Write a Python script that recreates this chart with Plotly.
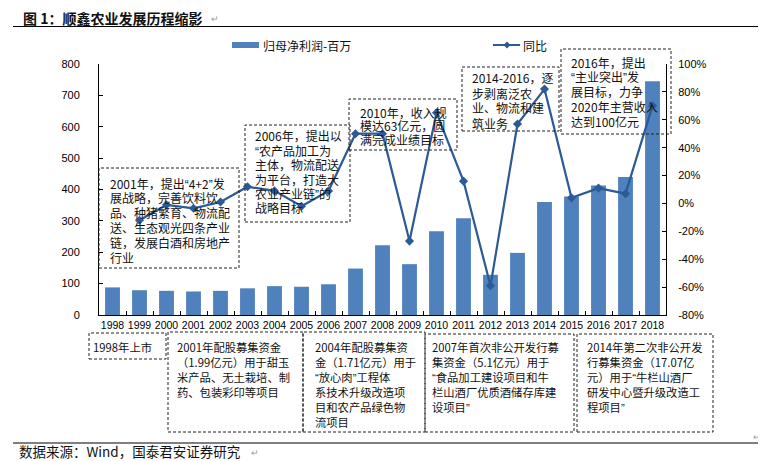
import plotly.graph_objects as go

# ---------------- data ----------------
years = ["1998", "1999", "2000", "2001", "2002", "2003", "2004", "2005", "2006", "2007",
         "2008", "2009", "2010", "2011", "2012", "2013", "2014", "2015", "2016", "2017", "2018"]
profit = [88, 79, 77, 75, 77, 85, 92, 90, 98, 148, 222, 162, 267, 308, 128, 198, 360, 378, 413, 440, 745]
yoy = [None, -0.12, -0.01, -0.035, 0.01, 0.12, 0.09, -0.02, 0.09, 0.50, 0.50, -0.27,
       0.65, 0.16, -0.59, 0.57, 0.82, 0.04, 0.11, 0.07, 0.70]
y2_tickvals = [-0.8, -0.6, -0.4, -0.2, 0.0, 0.2, 0.4, 0.6, 0.8, 1.0]
y2_ticktext = ["-80%", "-60%", "-40%", "-20%", "0%", "20%", "40%", "60%", "80%", "100%"]

title_text = "图 1：顺鑫农业发展历程缩影"
source_text = "数据来源：Wind，国泰君安证券研究"
legend_bar = "归母净利润-百万"
legend_line = "同比"

top_notes = [
    ["2001年，提出“4+2”发", "展战略，完善饮料饮", "品、种猪繁育、物流配", "送、生态观光四条产业",
     "链，发展白酒和房地产", "行业"],
    ["2006年，提出以", "“农产品加工为", "主体，物流配送", "为平台，打造大", "农业产业链”的", "战略目标"],
    ["2010年，收入规", "模达63亿元，圆", "满完成业绩目标"],
    ["2014-2016，逐", "步剥离泛农", "业、物流和建", "筑业务"],
    ["2016年，提出", "“主业突出”发", "展目标，力争", "2020年主营收入", "达到100亿元"],
]
bottom_notes = [
    ["1998年上市"],
    ["2001年配股募集资金", "（1.99亿元）用于甜玉", "米产品、无土栽培、制", "药、包装彩印等项目"],
    ["2004年配股募集资", "金（1.71亿元）用于", "“放心肉”工程体", "系技术升级改造项", "目和农产品绿色物", "流项目"],
    ["2007年首次非公开发行募", "集资金（5.1亿元）用于", "“食品加工建设项目和牛", "栏山酒厂优质酒储存库建", "设项目”"],
    ["2014年第二次非公开发", "行募集资金（17.07亿", "元）用于“牛栏山酒厂", "研发中心暨升级改造工", "程项目”"],
]

# ---------------- layout helpers (reference pixel -> paper) ----------------
OFF = 8                      # page body margin offset
W, H = 766 - OFF, 461 - OFF
PL, PR, PT, PB = 99, 666, 64, 315   # plot area in reference pixels
def px(x):
    return (x - PL) / (PR - PL)
def py(y):
    return (PB - y) / (PB - PT)

CJK = "Noto Sans CJK SC"
NUM = "Liberation Sans"
BAR_C = "#4F81BD"
LINE_C = "#2C5A96"
TXT_C = "#111111"

fig = go.Figure()
fig.add_bar(x=years, y=profit, marker=dict(color=BAR_C, line=dict(width=0)), name=legend_bar, yaxis="y")
fig.add_scatter(x=years, y=yoy, yaxis="y2", mode="lines+markers", name=legend_line,
                line=dict(color=LINE_C, width=2.2),
                marker=dict(symbol="diamond", size=7, color=LINE_C))

shapes = []
annotations = []

def narrow_quotes(s):
    q = '<span style="font-family:Liberation Sans">%s</span>'
    return s.replace("“", q % "“").replace("”", q % "”")

def text(x, y, s, size, family=CJK, color=TXT_C, xanchor="left", yanchor="middle"):
    annotations.append(dict(x=px(x), y=py(y), xref="paper", yref="paper", text=s, showarrow=False,
                            xanchor=xanchor, yanchor=yanchor, align="left", borderpad=0,
                            font=dict(family=family, size=size, color=color)))

def box(x0, y0, x1, y1):
    shapes.append(dict(type="rect", xref="paper", yref="paper", x0=px(x0), x1=px(x1), y0=py(y1), y1=py(y0),
                       line=dict(color="#222222", width=1, dash="3px,2px"), fillcolor="rgba(0,0,0,0)",
                       layer="above"))

# title + rule
text(22, 18, "<b>" + title_text + "</b>", 14)
text(210, 19, "↵", 9, color="#999999")
shapes.append(dict(type="line", xref="paper", yref="paper", x0=px(13), x1=px(766), y0=py(26.5), y1=py(26.5),
                   line=dict(color="black", width=1.2)))

# legend (manual)
shapes.append(dict(type="rect", xref="paper", yref="paper", x0=px(232), x1=px(259), y0=py(48), y1=py(42),
                   fillcolor=BAR_C, line=dict(width=0)))
text(262, 45, legend_bar, 12)
shapes.append(dict(type="line", xref="paper", yref="paper", x0=px(493), x1=px(520), y0=py(45), y1=py(45),
                   line=dict(color=LINE_C, width=2)))
dx, dy = 3.5, 3.5
shapes.append(dict(type="path", xref="paper", yref="paper",
                   path="M %f %f L %f %f L %f %f L %f %f Z" % (px(507 - dx), py(45), px(507), py(45 - dy),
                                                             px(507 + dx), py(45), px(507), py(45 + dy)),
                   fillcolor=LINE_C, line=dict(width=0)))
text(522, 45, legend_line, 12)

# top note boxes: (x0, y0, x1, y1, text_x, first_line_y, spacing)
top_geo = [
    (99, 168, 239, 268, 109, 183, 14.8),
    (245, 125, 350, 222, 254, 136, 14.4),
    (349, 99, 457, 150, 359, 112, 13.7),
    (462, 67, 559, 131, 471, 78, 15.0),
    (561, 49, 671, 134, 570, 62, 14.8),
]
for (x0, y0, x1, y1, tx, ty, sp), lines in zip(top_geo, top_notes):
    box(x0, y0, x1, y1)
    for i, ln in enumerate(lines):
        text(tx, ty + i * sp, narrow_quotes(ln), 12)

bottom_geo = [
    (89, 333, 166, 359, 92, 347, 15.0),
    (168, 332, 303, 432, 176, 347, 15.0),
    (303, 332, 425, 432, 314, 347, 15.0),
    (425, 334, 574, 432, 431, 347, 15.0),
    (577, 334, 713, 432, 586, 347, 15.0),
]
for (x0, y0, x1, y1, tx, ty, sp), lines in zip(bottom_geo, bottom_notes):
    box(x0, y0, x1, y1)
    for i, ln in enumerate(lines):
        text(tx, ty + i * sp, narrow_quotes(ln), 11.3)

# bottom rule + source
text(757, 436, "↵", 9, color="#999999", xanchor="center")
shapes.append(dict(type="line", xref="paper", yref="paper", x0=px(13), x1=px(766), y0=py(443), y1=py(443),
                   line=dict(color="black", width=1.2)))
text(18, 451, source_text, 13.5)
text(250, 452, "↵", 9, color="#999999")

tickfont = dict(family=NUM, size=11, color="black")
fig.update_layout(
    width=W, height=H,
    margin=dict(l=PL - OFF, r=W - (PR - OFF), t=PT - OFF, b=H - (PB - OFF), pad=0),
    paper_bgcolor="white", plot_bgcolor="white",
    showlegend=False, bargap=0.45,
    xaxis=dict(type="category", range=[-0.5, len(years) - 0.5], showline=True, linecolor="black",
               linewidth=1, ticks="inside", tickson="boundaries", ticklen=4, tickcolor="black", tickangle=0,
               tickfont=dict(family=NUM, size=10.5, color="black"),
               showgrid=False, zeroline=False, fixedrange=True),
    yaxis=dict(range=[0, 800], dtick=100, showline=True, linecolor="black", linewidth=1, ticks="inside",
               ticklen=4, tickcolor="black", tickfont=tickfont, showgrid=False, zeroline=False,
               ticklabelstandoff=16),
    yaxis2=dict(overlaying="y", side="right", range=[-0.8, 1.0], tickvals=y2_tickvals, ticktext=y2_ticktext,
                showline=True, linecolor="black", linewidth=1, ticks="inside", ticklen=4, tickcolor="black",
                tickfont=tickfont, showgrid=False, zeroline=False, ticklabelstandoff=9),
    shapes=shapes, annotations=annotations,
)

fig.write_html("out.html")
